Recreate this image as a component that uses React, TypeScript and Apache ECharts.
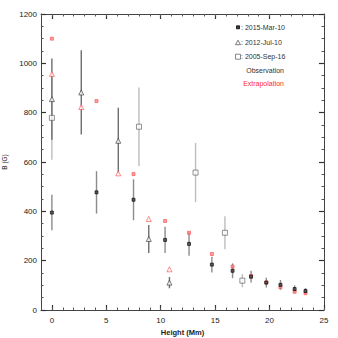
import React, { useEffect, useRef } from "react";
import * as echarts from "echarts";

const heights2015 = [0, 4.1, 7.5, 10.4, 12.6, 14.7, 16.6, 18.3, 19.7, 21.0, 22.3, 23.3];
const obs2015 = [395, 477, 447, 284, 268, 184, 159, 135, 111, 102, 85, 77];
const err2015 = [72, 86, 83, 53, 48, 32, 30, 24, 20, 20, 15, 12];
const ext2015 = [1100, 847, 551, 361, 313, 227, 176, 138, 112, 92, 74, 68];

const heights2012 = [0, 2.7, 6.1, 8.9, 10.8];
const obs2012 = [855, 882, 686, 288, 111];
const err2012 = [165, 171, 134, 57, 23];
const ext2012 = [957, 823, 554, 369, 165];

const heights2005 = [0, 8.0, 13.2, 15.9, 17.5];
const obs2005 = [779, 743, 557, 313, 119];
const err2005 = [170, 159, 120, 67, 27];

const xMajorTicks = [0, 5, 10, 15, 20, 25];

const legendDates = ["2015-Mar-10", "2012-Jul-10", "2005-Sep-16"];

const FONT = "Liberation Sans, Arial, Helvetica, sans-serif";

function errData(xs: number[], ys: number[], es: number[]) {
  return xs.map((x, i) => [x, ys[i] - es[i], ys[i] + es[i]]);
}
function pts(xs: number[], ys: number[]) {
  return xs.map((x, i) => [x, ys[i]]);
}
function errSeries(data: number[][], color: string) {
  return {
    type: "custom",
    xAxisIndex: 0,
    yAxisIndex: 0,
    z: 1,
    data,
    encode: { x: 0, y: [1, 2] },
    renderItem: (params: any, api: any) => {
      const p1 = api.coord([api.value(0), api.value(1)]);
      const p2 = api.coord([api.value(0), api.value(2)]);
      return {
        type: "line",
        shape: { x1: p1[0], y1: p1[1], x2: p2[0], y2: p2[1] },
        style: { stroke: color, lineWidth: 1.4 },
      };
    },
  };
}

export default function App() {
  const ref = useRef<HTMLDivElement>(null);
  useEffect(() => {
    if (!ref.current) return;
    const chart = echarts.init(ref.current, undefined, { renderer: "svg" });
    const axisLine = { show: true, onZero: false, lineStyle: { color: "#444", width: 1 } };
    const xMajorBase = {
      type: "value",
      min: -1,
      max: 25,
      axisLine,
      splitLine: { show: false },
      axisTick: { show: true, inside: true, length: 5, customValues: xMajorTicks, lineStyle: { color: "#333", width: 1.2 } },
    };
    const xMinorBase = {
      type: "value",
      min: -1,
      max: 25,
      interval: 1,
      axisLine: { show: false, onZero: false },
      splitLine: { show: false },
      axisLabel: { show: false },
      axisTick: { show: true, inside: true, length: 2.5, lineStyle: { color: "#555", width: 1 } },
    };
    const yBase = {
      type: "value",
      min: 0,
      max: 1200,
      interval: 200,
      axisLine,
      splitLine: { show: false },
      axisTick: { show: true, inside: true, length: 5, lineStyle: { color: "#333", width: 1.2 } },
      minorTick: { show: true, splitNumber: 4, length: 2.5, lineStyle: { color: "#555", width: 1 } },
    };
    const legendX = 238;
    const legendRows = [27.3, 42.7, 56.7];
    chart.setOption({
      animation: false,
      backgroundColor: "#fff",
      grid: { left: 41, right: 14, top: 14, bottom: 28, containLabel: false, outerBoundsMode: "none" },
      xAxis: [
        {
          ...xMajorBase,
          position: "bottom",
          name: "Height (Mm)",
          nameLocation: "middle",
          nameGap: 17,
          nameTextStyle: { fontFamily: FONT, fontSize: 7.5, fontWeight: "bold", color: "#222" },
          axisLabel: { show: true, customValues: xMajorTicks, margin: 6, fontFamily: FONT, fontSize: 8, color: "#222", formatter: (v: number) => String(v) },
        },
        { ...xMajorBase, position: "top", axisLabel: { show: false } },
        { ...xMinorBase, position: "bottom" },
        { ...xMinorBase, position: "top" },
      ],
      yAxis: [
        {
          ...yBase,
          position: "left",
          name: "B (G)",
          nameLocation: "middle",
          nameGap: 27,
          nameTextStyle: { fontFamily: FONT, fontSize: 6.5, color: "#222" },
          axisLabel: { show: true, margin: 4, fontFamily: FONT, fontSize: 8, color: "#222", formatter: (v: number) => String(v) },
        },
        { ...yBase, position: "right", axisLabel: { show: false } },
      ],
      series: [
        errSeries(errData(heights2005, obs2005, err2005), "#bdbdbd"),
        errSeries(errData(heights2012, obs2012, err2012), "#6e6e6e"),
        errSeries(errData(heights2015, obs2015, err2015), "#8c8c8c"),
        {
          type: "scatter",
          z: 3,
          data: pts(heights2012, ext2012),
          symbol: "triangle",
          symbolSize: 5,
          itemStyle: { color: "#fff", borderColor: "#ff4a4a", borderWidth: 0.8 },
        },
        {
          type: "scatter",
          z: 3,
          data: pts(heights2015, ext2015),
          symbol: "rect",
          symbolSize: 3,
          itemStyle: { color: "#ff8a8a", borderColor: "#ff4a4a", borderWidth: 0.8 },
        },
        {
          type: "scatter",
          z: 4,
          data: pts(heights2005, obs2005),
          symbol: "rect",
          symbolSize: 5,
          itemStyle: { color: "#fff", borderColor: "#555", borderWidth: 0.8 },
        },
        {
          type: "scatter",
          z: 4,
          data: pts(heights2012, obs2012),
          symbol: "triangle",
          symbolSize: 5,
          itemStyle: { color: "#fff", borderColor: "#333", borderWidth: 0.8 },
        },
        {
          type: "scatter",
          z: 5,
          data: pts(heights2015, obs2015),
          symbol: "rect",
          symbolSize: 3,
          itemStyle: { color: "#444", borderColor: "#000", borderWidth: 0.8 },
        },
      ],
      graphic: [
        { type: "rect", shape: { x: legendX - 1.5, y: legendRows[0] - 1.5, width: 3, height: 3 }, style: { fill: "#444", stroke: "#000", lineWidth: 0.8 } },
        {
          type: "polygon",
          shape: { points: [[legendX, legendRows[1] - 2.5], [legendX - 2.5, legendRows[1] + 2], [legendX + 2.5, legendRows[1] + 2]] },
          style: { fill: "#fff", stroke: "#444", lineWidth: 0.7 },
        },
        { type: "rect", shape: { x: legendX - 2.5, y: legendRows[2] - 2.5, width: 5, height: 5 }, style: { fill: "#fff", stroke: "#555", lineWidth: 0.7 } },
        ...legendDates.map((d, i) => ({
          type: "text",
          x: legendX + 3,
          y: legendRows[i],
          style: { text: ": " + d, fontFamily: FONT, fontSize: 7, fill: "#333", verticalAlign: "middle" },
        })),
        {
          type: "text",
          x: 284,
          y: 70.7,
          style: { text: "Observation", fontFamily: FONT, fontSize: 7, fill: "#333", align: "right", verticalAlign: "middle" },
        },
        {
          type: "text",
          x: 284,
          y: 83.3,
          style: { text: "Extrapolation", fontFamily: FONT, fontSize: 7, fill: "#ff2a2a", align: "right", verticalAlign: "middle" },
        },
      ],
    });
    return () => chart.dispose();
  }, []);
  return <div ref={ref} style={{ position: "fixed", left: 0, top: 0, width: 338, height: 338 }} />;
}
